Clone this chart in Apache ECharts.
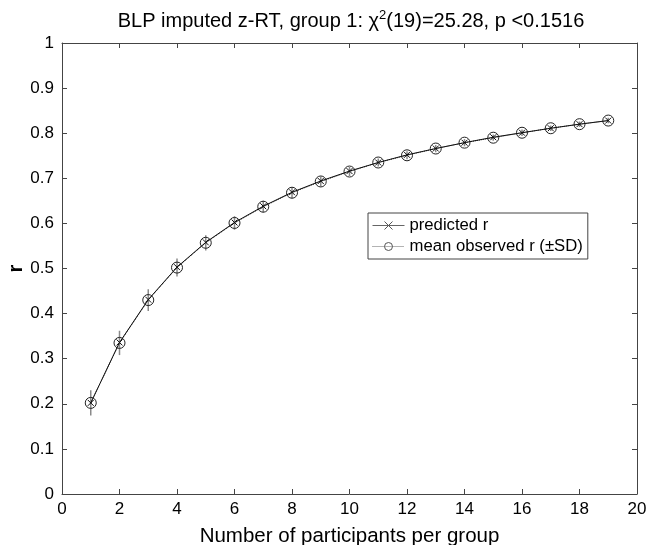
<!DOCTYPE html>
<html>
<head>
<meta charset="utf-8">
<script src="https://cdn.jsdelivr.net/npm/echarts@6/dist/echarts.min.js"></script>
<style>html,body{margin:0;padding:0;background:#fff}#c{width:649px;height:545px}</style>
</head>
<body>
<div id="c"></div>
<script>
const groupSizes = [1,2,3,4,5,6,7,8,9,10,11,12,13,14,15,16,17,18,19];
const predictedR = [0.202,0.336,0.431,0.503,0.558,0.602,0.638,0.669,0.694,0.716,0.735,0.752,0.766,0.779,0.791,0.801,0.811,0.820,0.828];
const observedR  = [0.202,0.335,0.430,0.502,0.557,0.601,0.637,0.668,0.693,0.715,0.735,0.751,0.766,0.779,0.790,0.801,0.811,0.820,0.828];
const observedSD = [0.028,0.027,0.024,0.020,0.017,0.015,0.013,0.012,0.011,0.010,0.009,0.009,0.008,0.008,0.007,0.007,0.006,0.006,0.006];
const xTicks = {min:0, max:20, interval:2};
const yTicks = {min:0, max:1, interval:0.1};

const FONT = '"Liberation Sans", Arial, Helvetica, sans-serif';
const AX = '#444';
const chart = echarts.init(document.getElementById('c'), null, {renderer:'canvas'});

const predData = groupSizes.map((x,i)=>[x, predictedR[i]]);
const obsData = groupSizes.map((x,i)=>[x, observedR[i]]);
const errData = groupSizes.map((x,i)=>[x, observedR[i]-observedSD[i], observedR[i]+observedSD[i]]);

function baseX(pos, showLabels){
  return {
    type:'value', position:pos, min:xTicks.min, max:xTicks.max, interval:xTicks.interval,
    axisLine:{show:true, onZero:false, lineStyle:{color:AX, width:1}},
    axisTick:{show:true, inside:true, length:5, lineStyle:{color:AX}},
    axisLabel:{show:showLabels, color:'#000', fontFamily:FONT, fontSize:17, margin:7},
    splitLine:{show:false}
  };
}
function baseY(pos, showLabels){
  return {
    type:'value', position:pos, min:yTicks.min, max:yTicks.max, interval:yTicks.interval,
    axisLine:{show:true, onZero:false, lineStyle:{color:AX, width:1}},
    axisTick:{show:true, inside:true, length:5, lineStyle:{color:AX}},
    axisLabel:{show:showLabels, color:'#000', fontFamily:FONT, fontSize:17, margin:8,
      formatter: v => (Math.round(v*10)/10).toString()},
    splitLine:{show:false}
  };
}

const xMain = baseX('bottom', true);
xMain.name = 'Number of participants per group';
xMain.nameLocation = 'middle';
xMain.nameGap = 32;
xMain.nameMoveOverlap = false;
xMain.nameTextStyle = {color:'#000', fontFamily:FONT, fontSize:20.5};
const yMain = baseY('left', true);
yMain.name = 'r';
yMain.nameLocation = 'middle';
yMain.nameGap = 36;
yMain.nameMoveOverlap = false;
yMain.nameRotate = 90;
yMain.nameTextStyle = {color:'#000', fontFamily:FONT, fontSize:20, fontWeight:'bold'};

const option = {
  animation:false,
  backgroundColor:'#fff',
  title:{
    text:'BLP imputed z-RT, group 1: χ{sup|2}(19)=25.28, p <0.1516',
    left:346, top:4, textAlign:'center',
    textStyle:{color:'#000', fontFamily:FONT, fontSize:20, fontWeight:'normal',
      rich:{sup:{fontFamily:FONT, fontSize:13, color:'#000', verticalAlign:'bottom', padding:[0,0,11,0]}}}
  },
  grid:{left:62, top:43, right:12, bottom:51, containLabel:false, outerBoundsMode:'none'},
  xAxis:[xMain, baseX('top', false)],
  yAxis:[yMain, baseY('right', false)],
  legend:{
    orient:'vertical', left:368, top:213,
    backgroundColor:'#fff', borderColor:AX, borderWidth:1,
    padding:[4,5,4,4], itemGap:4, itemWidth:32, itemHeight:10,
    textStyle:{color:'#000', fontFamily:FONT, fontSize:16.7},
    lineStyle:{width:1, color:'#666'},
    itemStyle:{borderWidth:1, borderColor:'#555'},
    data:['predicted r','mean observed r (±SD)']
  },
  series:[
    {
      name:'error', type:'custom', xAxisIndex:0, yAxisIndex:0, z:1,
      data:errData,
      renderItem:function(params, api){
        const p1 = api.coord([api.value(0), api.value(1)]);
        const p2 = api.coord([api.value(0), api.value(2)]);
        return {type:'line', shape:{x1:p1[0], y1:p1[1], x2:p2[0], y2:p2[1]},
          style:{stroke:'#8a8a8a', lineWidth:1.5}};
      }
    },
    {
      name:'predicted r', type:'line', data:predData, z:3,
      symbol:'path://M0,0L10,10M10,0L0,10', symbolSize:6, showSymbol:true,
      lineStyle:{color:'#111', width:1, type:'solid'},
      itemStyle:{color:'none', borderColor:'#111', borderWidth:1}
    },
    {
      name:'mean observed r (±SD)', type:'line', data:obsData, z:2,
      symbol:'circle', symbolSize:11, showSymbol:true,
      lineStyle:{color:'#333', width:1, type:'dotted'},
      itemStyle:{color:'none', borderColor:'#222', borderWidth:1}
    }
  ]
};
chart.setOption(option);
</script>
</body>
</html>
